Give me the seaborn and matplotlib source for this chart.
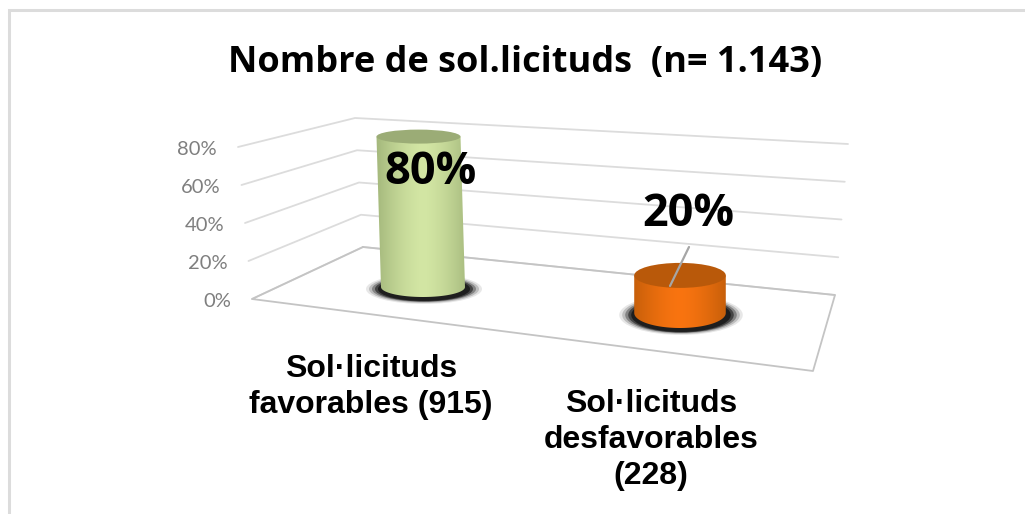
import matplotlib
matplotlib.use("Agg")
import matplotlib.pyplot as plt
from matplotlib.patches import Ellipse, PathPatch
from matplotlib.path import Path
import seaborn as sns
import numpy as np
import pandas as pd

title = "Nombre de sol.licituds  (n= 1.143)"
categories = ["Sol·licituds\nfavorables (915)", "Sol·licituds\ndesfavorables\n(228)"]
values = [80, 20]
y_ticks = [0, 20, 40, 60, 80]

W, H = 1025, 514
PX_PER_PCT = 1.88
BASE_Y = 287      # pixel row of value 0 under the first bar
CAT_X = [423, 680]
BAR_BASE = [287, 313]
LEAN = [-4.5, 0]  # top of the cylinder sits a little left of its foot
BAR_SCALE = [1.0, 1.09]  # the nearer cylinder looks wider
TOP_RY = [7, 12.5]
BOT_RY = [10, 15]
BODY = [("#a2b67a", "#d3e6a4"), ("#bd5b09", "#f97410")]
TOPS = ["#9bac76", "#b9590a"]

# wall and floor corners, (x, y) at 0% and at 80%
FRONT = ((252, 299), (238, 147))
BACK = ((363, 247), (355, 118))
RIGHT = ((835, 295), (848, 144))
FLOOR_FRONT_RIGHT = (813, 371)

df = pd.DataFrame({"cat": categories, "pct": values})

sns.set_style("white")
fig = plt.figure(figsize=(W / 100, H / 100), dpi=100, facecolor="white")

# pixel canvas for the wall, floor and frame
bg = fig.add_axes([0, 0, 1, 1], zorder=0)
bg.set_xlim(0, W)
bg.set_ylim(H, 0)
bg.axis("off")

# percent axes for the bars, lined up on the same pixels
ax = fig.add_axes([0, 0, 1, 1], zorder=1)
ax.patch.set_alpha(0)
sns.barplot(data=df, x="cat", y="pct", hue="cat", palette=[b[0] for b in BODY],
            width=84 / (CAT_X[1] - CAT_X[0]), legend=False, ax=ax, saturation=1)
step = CAT_X[1] - CAT_X[0]
xlim = (-CAT_X[0] / step, (W - CAT_X[0]) / step)
ylim = (-(H - BASE_Y) / PX_PER_PCT, BASE_Y / PX_PER_PCT)
ax.set_xlim(xlim)
ax.set_ylim(ylim)
ax.axis("off")


def wall_point(corner, v):
    t = v / y_ticks[-1]
    return (corner[0][0] + t * (corner[1][0] - corner[0][0]),
            corner[0][1] + t * (corner[1][1] - corner[0][1]))


# frame, open on the right and at the bottom
bg.plot([9, 9, W], [H, 10, 10], color="#dcdcdc", lw=2.2, solid_joinstyle="miter")

# wall gridlines and tick labels
for v in y_ticks:
    a, b, c = wall_point(FRONT, v), wall_point(BACK, v), wall_point(RIGHT, v)
    bg.plot([a[0], b[0], c[0]], [a[1], b[1], c[1]], color="#dcdcdc", lw=1.3)
    bg.text(a[0] - 21, a[1] + 2.5, f"{v}%", ha="right", va="center", color="#7f7f7f",
            fontsize=14.5, family="Lato")

# floor
p0, p1, p2 = FRONT[0], BACK[0], RIGHT[0]
bg.plot([p1[0], p0[0], FLOOR_FRONT_RIGHT[0], p2[0], p1[0]],
        [p1[1], p0[1], FLOOR_FRONT_RIGHT[1], p2[1], p1[1]], color="#c4c4c4", lw=1.3)

# turn the flat bars into cylinders
for i, bar in enumerate(ax.patches[:len(values)]):
    bar.set_visible(False)
    v = bar.get_height()
    h_px = v * PX_PER_PCT
    cx = CAT_X[i]
    half = bar.get_width() * step / 2 * BAR_SCALE[i]
    by = BAR_BASE[i]
    ty = by - h_px
    tx = cx + LEAN[i]

    # shadow under the foot
    for grow, rise, alpha in zip([32, 26, 20, 14, 8], [10, 8, 6, 5, 4], [0.1, 0.2, 0.35, 0.6, 0.9]):
        bg.add_patch(Ellipse((cx + 1, by + 2), 2 * half + grow, 2 * BOT_RY[i] + rise,
                             color="#1a1a1a", alpha=alpha, lw=0))

    t = np.linspace(np.pi, 0, 60)
    foot = np.c_[cx + half * np.cos(t), by + BOT_RY[i] * np.sin(t)]
    verts = np.vstack([foot, [[tx + half, ty], [tx - half, ty]], foot[:1]])
    patch = PathPatch(Path(verts), fc="none", ec="none", transform=bg.transData)
    bg.add_patch(patch)
    ramp = np.abs(np.linspace(-1, 1, 256)) ** 1.5
    lo = np.array(matplotlib.colors.to_rgb(BODY[i][0]))
    hi = np.array(matplotlib.colors.to_rgb(BODY[i][1]))
    grad = (hi + (lo - hi) * ramp[:, None])[None, :, :]
    im = bg.imshow(grad, extent=(cx - half - 6, cx + half + 6, by + BOT_RY[i] + 1, ty - 1),
                   aspect="auto", zorder=3)
    im.set_clip_path(patch)
    bg.add_patch(Ellipse((tx, ty), 2 * half, 2 * TOP_RY[i], color=TOPS[i], lw=0, zorder=4))

bg.set_xlim(0, W)
bg.set_ylim(H, 0)

# leader line of the small bar
bg.plot([689, 670], [247, 286], color="#a6a6a6", lw=1.6, zorder=5)

# texts
fig.text(525 / W, 1 - 63 / H, title, ha="center", va="center", fontsize=26, fontweight="bold",
         family="Open Sans", color="black", zorder=6)
label_pos = [(431, 172), (688, 215)]
for v, pos in zip(values, label_pos):
    bg.text(pos[0], pos[1], f"{v}%", ha="center", va="center", fontsize=32.5, fontweight="bold",
            family="Open Sans", color="black", zorder=6)
cat_pos = [(371, 387), (651, 440)]
for c, pos in zip(categories, cat_pos):
    bg.text(pos[0], pos[1], c, ha="center", va="center", fontsize=23, fontweight="bold",
            family="Liberation Sans", color="black", linespacing=1.25, zorder=6)

fig.savefig("out.png", dpi=100)
